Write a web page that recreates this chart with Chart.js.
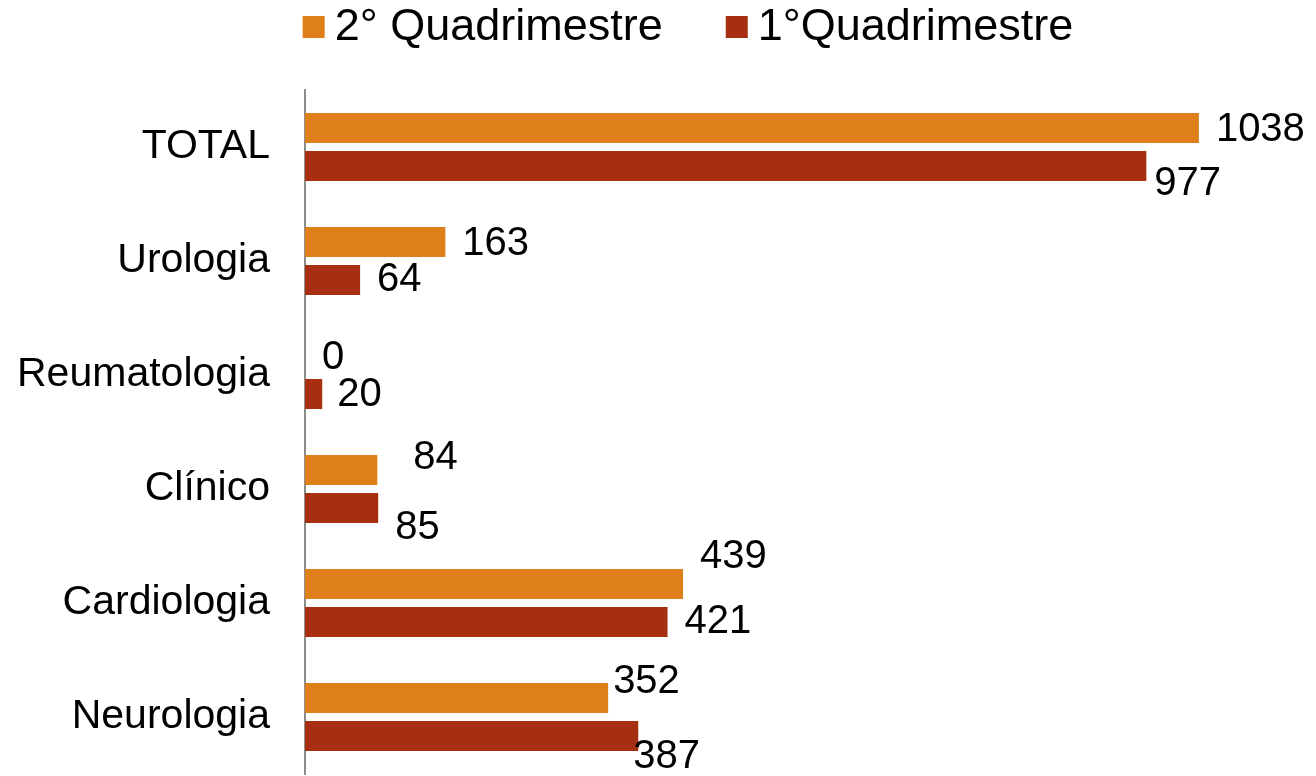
<!DOCTYPE html>
<html>
<head>
<meta charset="utf-8">
<script src="https://cdn.jsdelivr.net/npm/chart.js@4.4.1/dist/chart.umd.min.js"></script>
<style>
  html, body { margin: 0; padding: 0; background: #ffffff; }
  #wrap { width: 1316px; height: 776px; position: relative; }
</style>
</head>
<body>
<div id="wrap"><canvas id="c" width="1316" height="776"></canvas></div>
<script>
const categories = ["TOTAL", "Urologia", "Reumatologia", "Clínico", "Cardiologia", "Neurologia"];
const seriesNames = ["2° Quadrimestre", "1°Quadrimestre"];
const quad2 = [1038, 163, 0, 84, 439, 352];
const quad1 = [977, 64, 20, 85, 421, 387];

const FONT = "'Liberation Sans', Arial, sans-serif";
const COLORS = ["#DF7F1A", "#A52F10"];

// label nudges [dx, dy] per dataset / category (placement only)
const labelNudge = [
  [[0, 2], [0, 2], [0, 2], [19, -12], [0, -27], [-12, -16]],
  [[-9, 18], [0, 0], [-2, 1], [0, 20], [0, 0], [-22, 21]]
];

const valueLabels = {
  id: 'valueLabels',
  afterDatasetsDraw(chart) {
    const ctx = chart.ctx;
    ctx.save();
    ctx.font = "40px " + FONT;
    ctx.fillStyle = "#000000";
    ctx.textAlign = "left";
    ctx.textBaseline = "middle";
    chart.data.datasets.forEach((ds, di) => {
      const meta = chart.getDatasetMeta(di);
      meta.data.forEach((bar, i) => {
        const n = labelNudge[di][i];
        ctx.fillText(String(ds.data[i]), bar.x + 17 + n[0], bar.y + n[1]);
      });
    });
    ctx.restore();
  }
};

const customLegend = {
  id: 'customLegend',
  afterDraw(chart) {
    const ctx = chart.ctx;
    ctx.save();
    ctx.font = "45px " + FONT;
    ctx.textBaseline = "middle";
    ctx.textAlign = "left";
    const box = 22, gapText = 10, gapItem = 63, cy = 27, centerX = 688;
    const items = chart.data.datasets.map(ds => ({ text: ds.label, color: ds.backgroundColor, w: ctx.measureText(ds.label).width }));
    let total = 0;
    items.forEach((it, i) => { total += box + gapText + it.w + (i > 0 ? gapItem : 0); });
    let x = centerX - total / 2;
    items.forEach((it, i) => {
      if (i > 0) x += gapItem;
      ctx.fillStyle = it.color;
      ctx.fillRect(x, cy - box / 2, box, box);
      x += box + gapText;
      ctx.fillStyle = "#000000";
      ctx.fillText(it.text, x, cy + 1);
      x += it.w;
    });
    ctx.restore();
  }
};

new Chart(document.getElementById('c'), {
  type: 'bar',
  data: {
    labels: categories,
    datasets: [
      { label: seriesNames[0], data: quad2, backgroundColor: COLORS[0], borderWidth: 0 },
      { label: seriesNames[1], data: quad1, backgroundColor: COLORS[1], borderWidth: 0 }
    ]
  },
  options: {
    indexAxis: 'y',
    responsive: false,
    animation: false,
    devicePixelRatio: 1,
    layout: { autoPadding: false, padding: { top: 90, left: 0, right: 0, bottom: 2 } },
    datasets: { bar: { barPercentage: 0.79, categoryPercentage: 0.667 } },
    plugins: {
      legend: { display: false },
      tooltip: { enabled: false }
    },
    scales: {
      x: {
        display: false,
        min: 0,
        max: 1174
      },
      y: {
        afterFit(scale) {
          scale.width = 305;
          scale.paddingTop = 0;
          scale.paddingBottom = 0;
        },
        grid: { display: false, drawTicks: false },
        border: { display: true, color: '#8c8c8c', width: 2 },
        ticks: {
          color: '#000000',
          padding: 35,
          font: { family: FONT, size: 41 }
        }
      }
    }
  },
  plugins: [valueLabels, customLegend]
});
</script>
</body>
</html>
